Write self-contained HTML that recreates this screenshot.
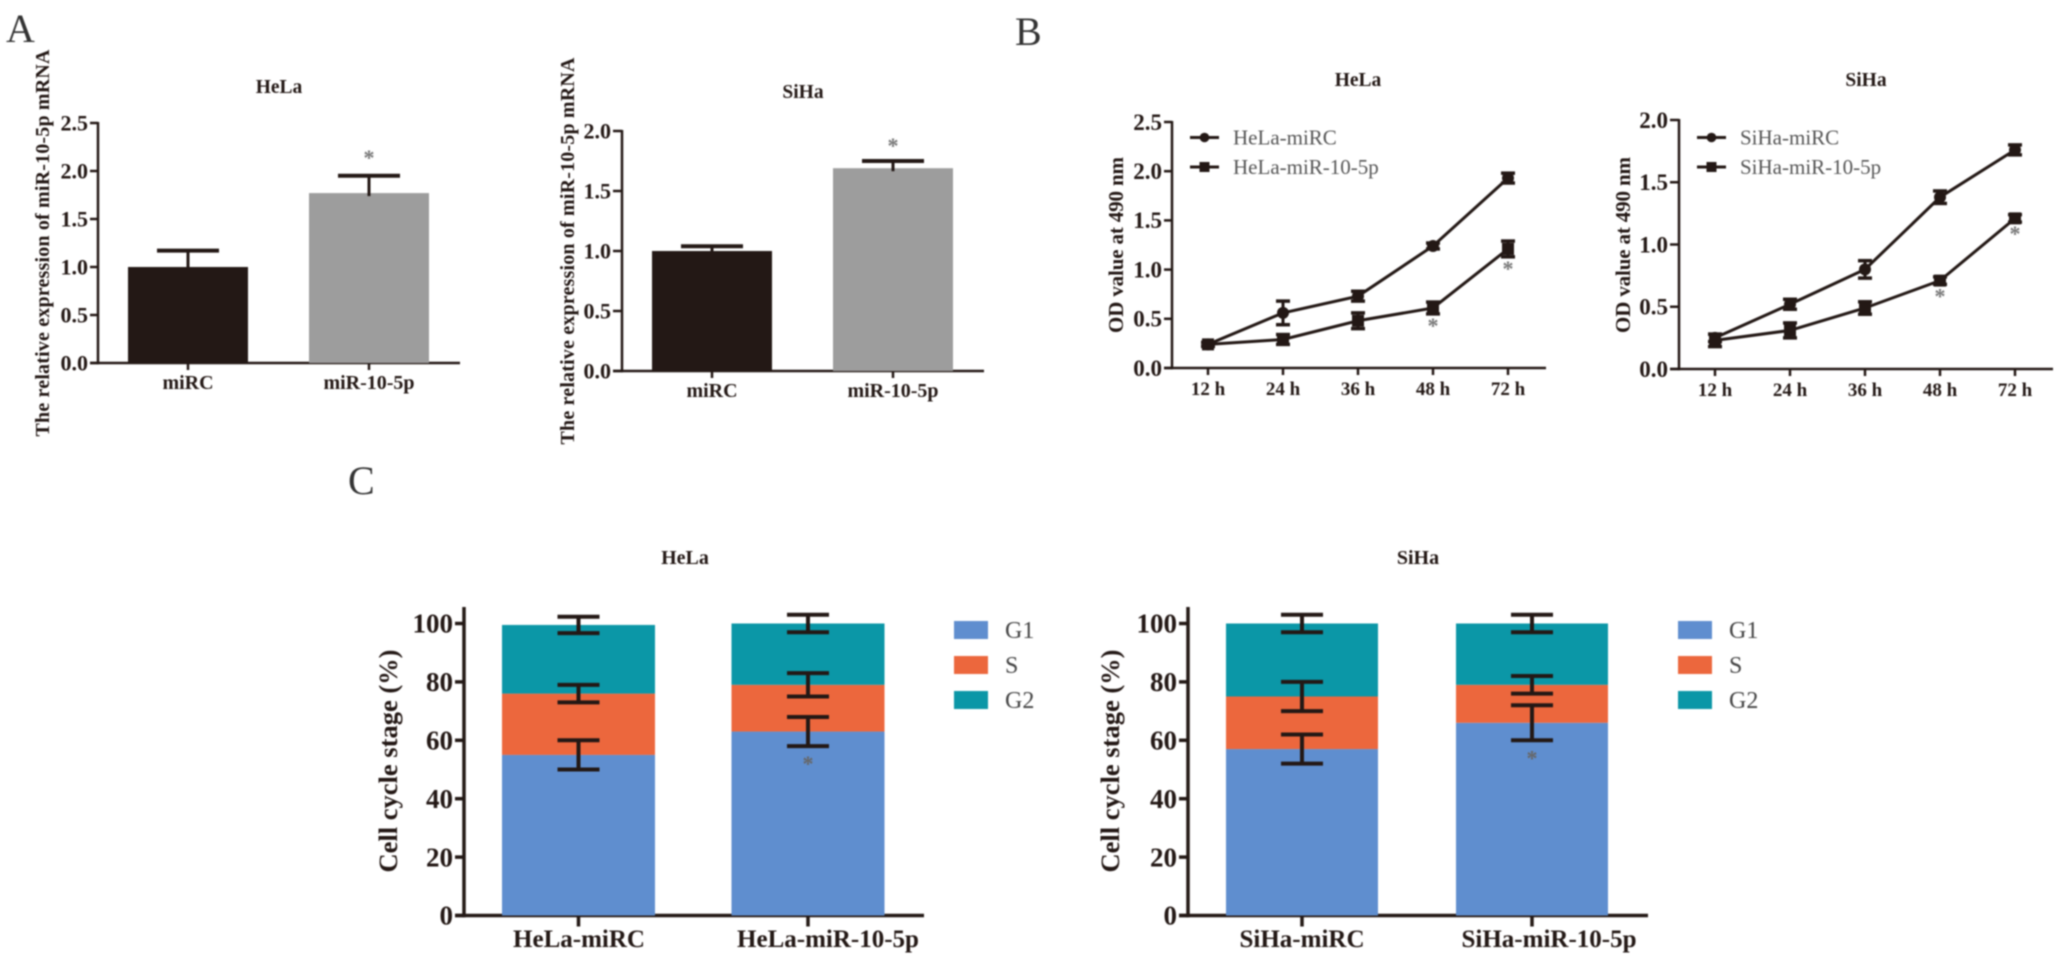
<!DOCTYPE html>
<html>
<head>
<meta charset="utf-8">
<title>miR-10-5p figure</title>
<style>
html,body{margin:0;padding:0;background:#fff;width:2067px;height:962px;overflow:hidden}
svg{display:block;font-family:"Liberation Serif",serif}
</style>
</head>
<body>
<svg id="fig" width="2067" height="962" viewBox="0 0 2067 962" xmlns="http://www.w3.org/2000/svg">
<g id="root" style="filter:blur(0.7px)"></g>
</svg>
<script>
// ---- Panel A data ----
const barCategories = ["miRC", "miR-10-5p"];
const helaBarValues = [1.0, 1.77];
const helaBarErrors = [0.17, 0.18];
const sihaBarValues = [1.0, 1.69];
const sihaBarErrors = [0.04, 0.06];
const helaBarTicks = [0, 0.5, 1.0, 1.5, 2.0, 2.5];
const sihaBarTicks = [0, 0.5, 1.0, 1.5, 2.0];

// ---- Panel B data ----
const timeLabels = ["12 h", "24 h", "36 h", "48 h", "72 h"];
const helaOdControl = [0.24, 0.56, 0.73, 1.24, 1.93];
const helaOdControlErr = [0.02, 0.12, 0.05, 0.03, 0.05];
const helaOdMir = [0.24, 0.29, 0.48, 0.61, 1.21];
const helaOdMirErr = [0.02, 0.05, 0.08, 0.06, 0.08];
const sihaOdControl = [0.25, 0.52, 0.80, 1.38, 1.76];
const sihaOdControlErr = [0.03, 0.04, 0.07, 0.05, 0.04];
const sihaOdMir = [0.23, 0.31, 0.49, 0.71, 1.21];
const sihaOdMirErr = [0.05, 0.06, 0.05, 0.03, 0.03];
const helaOdTicks = [0, 0.5, 1.0, 1.5, 2.0, 2.5];
const sihaOdTicks = [0, 0.5, 1.0, 1.5, 2.0];
const odStarPoints = [3, 4];

// ---- Panel C data ----
const stageNames = ["G1", "S", "G2"];
const cycleTicks = [0, 20, 40, 60, 80, 100];
const helaCycleCategories = ["HeLa-miRC", "HeLa-miR-10-5p"];
const sihaCycleCategories = ["SiHa-miRC", "SiHa-miR-10-5p"];
const helaG1 = [55, 63];
const helaS = [21, 16];
const helaG2 = [23.5, 21];
const helaG1Err = [5, 5];
const helaSErr = [3, 4];
const helaG2Err = [2.8, 3];
const sihaG1 = [57, 66];
const sihaS = [18, 13];
const sihaG2 = [25, 21];
const sihaG1Err = [5, 6];
const sihaSErr = [5, 3];
const sihaG2Err = [3, 3];

const INK = "#231815";
const root = document.getElementById("root");
const NS = "http://www.w3.org/2000/svg";

function make(tag, attrs, name, parent) {
  const el = document.createElementNS(NS, tag);
  for (const k in attrs) el.setAttribute(k, attrs[k]);
  
  
  (parent || root).appendChild(el);
  return el;
}
function label(str, x, y, size, weight, anchor, fill, name, parent, extra) {
  const t = make("text", Object.assign({x: x, y: y, "font-size": size, "font-weight": weight, "text-anchor": anchor, fill: fill}, extra || {}), name, parent);
  t.textContent = str;
  return t;
}
function line(x1, y1, x2, y2, w, name, parent, color) {
  return make("line", {x1: x1, y1: y1, x2: x2, y2: y2, stroke: color || INK, "stroke-width": w}, name, parent);
}
function yTitle(str, x, cy, len, size, name, parent) {
  label(str, 0, 0, size, "bold", "middle", INK, name, parent, {
    transform: "translate(" + x + "," + cy + ") rotate(-90)",
    textLength: len, lengthAdjust: "spacing"
  });
}
function yAxis(cfg, ticks, fmt, g) {
  const y = v => cfg.y0 - v * cfg.unit;
  line(cfg.ax, cfg.top !== undefined ? cfg.top : y(ticks[ticks.length - 1]) - 1, cfg.ax, cfg.y0 + cfg.w / 2, cfg.w, "y-axis", g);
  ticks.forEach(t => {
    line(cfg.ax - cfg.tick, y(t), cfg.ax, y(t), cfg.w, "y-tick", g);
    label(fmt(t), cfg.ax - cfg.tick - 2, y(t) + cfg.fs * 0.34, cfg.fs, "bold", "end", INK, "y-tick-label", g);
  });
  line(cfg.ax - cfg.tick, cfg.y0, cfg.xEnd, cfg.y0, cfg.w, "x-axis", g);
  return y;
}

// ---- Panel A ----
function barChart(cfg, values, errs, ticks) {
  const g = make("g", {}, cfg.name);
  const y = yAxis(cfg, ticks, v => v.toFixed(1), g);
  const colors = ["#231815", "#9d9d9d"];
  values.forEach((v, i) => {
    const cx = cfg.first + i * cfg.step;
    make("rect", {x: cx - cfg.bw / 2, y: y(v), width: cfg.bw, height: cfg.y0 - y(v), fill: colors[i]}, "bar-" + barCategories[i], g);
    line(cx, y(v) + 3, cx, y(v + errs[i]), 3, "error-stem", g);
    line(cx - 31, y(v + errs[i]), cx + 31, y(v + errs[i]), 4, "error-cap", g);
    line(cx, cfg.y0, cx, cfg.y0 + 7, cfg.w, "x-tick", g);
    label(barCategories[i], cx, cfg.y0 + 26, 20, "bold", "middle", INK, "x-tick-label", g);
  });
  const sx = cfg.first + cfg.step;
  label("*", sx, y(values[1] + errs[1]) - cfg.star, 22, "bold", "middle", "#777", "significance-star", g);
  label(cfg.title, cfg.titleCx, cfg.titleY, 19.5, "bold", "middle", INK, "chart-title", g);
  yTitle("The relative expression of miR-10-5p mRNA", cfg.titleX, cfg.titleCy, 387, 20, "y-axis-title", g);
}
barChart({name:"panel-a-hela", ax:98, y0:363, unit:96, tick:8, w:2.5, fs:22, xEnd:460, first:188, step:181, bw:120, star:11, title:"HeLa", titleCx:279, titleY:93, titleX:49, titleCy:243}, helaBarValues, helaBarErrors, helaBarTicks);
barChart({name:"panel-a-siha", ax:622, y0:371, unit:120, tick:9, w:2.5, fs:22, xEnd:984, first:712, step:181, bw:120, star:8, title:"SiHa", titleCx:803, titleY:98, titleX:574, titleCy:251}, sihaBarValues, sihaBarErrors, sihaBarTicks);

// ---- Panel B ----
function lineChart(cfg, ctrl, ctrlErr, mir, mirErr, ticks) {
  const g = make("g", {}, cfg.name);
  const y = yAxis(cfg, ticks, v => v.toFixed(1), g);
  const x = i => cfg.first + i * cfg.step;
  timeLabels.forEach((t, i) => {
    line(x(i), cfg.y0, x(i), cfg.y0 + 7, cfg.w, "x-tick", g);
    label(t, x(i), cfg.y0 + 27, 19, "bold", "middle", INK, "x-tick-label", g);
  });
  [[ctrl, ctrlErr, "circle", "control"], [mir, mirErr, "square", "mir"]].forEach(s => {
    const pts = s[0].map((v, i) => x(i) + "," + y(v)).join(" ");
    make("polyline", {points: pts, fill: "none", stroke: INK, "stroke-width": 3}, "series-line-" + s[3], g);
    s[0].forEach((v, i) => {
      const hi = y(v + s[1][i]), lo = y(v - s[1][i]);
      line(x(i), hi, x(i), lo, 3, "error-stem", g);
      line(x(i) - 7, hi, x(i) + 7, hi, 3.5, "error-cap", g);
      line(x(i) - 7, lo, x(i) + 7, lo, 3.5, "error-cap", g);
      if (s[2] === "circle") make("circle", {cx: x(i), cy: y(v), r: 6, fill: INK}, "point-" + s[3], g);
      else make("rect", {x: x(i) - 6, y: y(v) - 6, width: 12, height: 12, fill: INK}, "point-" + s[3], g);
    });
  });
  odStarPoints.forEach(i => {
    label("*", x(i), y(mir[i] - mirErr[i]) + 19, 22, "bold", "middle", "#777", "significance-star", g);
  });
  label(cfg.title, cfg.titleCx, 86, 19.5, "bold", "middle", INK, "chart-title", g);
  yTitle("OD value at 490 nm", cfg.titleX, 245, 176, 21, "y-axis-title", g);
  cfg.legend.forEach((txt, i) => {
    const ly = cfg.legendY + i * 29.5;
    line(cfg.legendX, ly, cfg.legendX + 29, ly, 3, "legend-line", g);
    if (i === 0) make("circle", {cx: cfg.legendX + 14.5, cy: ly, r: 4.8, fill: INK}, "legend-marker", g);
    else make("rect", {x: cfg.legendX + 9.5, y: ly - 5, width: 10, height: 10, fill: INK}, "legend-marker", g);
    label(txt, cfg.legendX + 43, ly + 7, 21, "normal", "start", "#555", "legend-entry", g);
  });
}
lineChart({name:"panel-b-hela", ax:1172, y0:368, unit:98.4, tick:8, w:2.5, fs:23, xEnd:1546, first:1208, step:75, title:"HeLa", titleCx:1358, titleX:1123, legend:["HeLa-miRC","HeLa-miR-10-5p"], legendX:1190, legendY:137.5}, helaOdControl, helaOdControlErr, helaOdMir, helaOdMirErr, helaOdTicks);
lineChart({name:"panel-b-siha", ax:1679, y0:369, unit:124.5, tick:9, w:2.5, fs:23, xEnd:2053, first:1715, step:75, title:"SiHa", titleCx:1866, titleX:1630, legend:["SiHa-miRC","SiHa-miR-10-5p"], legendX:1697, legendY:137.5}, sihaOdControl, sihaOdControlErr, sihaOdMir, sihaOdMirErr, sihaOdTicks);

// ---- Panel C ----
function stackChart(cfg, cats, series, errs) {
  const g = make("g", {}, cfg.name);
  const y = yAxis(cfg, cycleTicks, v => String(v), g);
  const colors = ["#5f8ecf", "#ec673d", "#0b97a7"];
  cats.forEach((c, i) => {
    const cx = cfg.first + i * cfg.step;
    let base = 0;
    const tops = [];
    series.forEach((s, k) => {
      const top = base + s[i];
      make("rect", {x: cx - cfg.bw / 2, y: y(top), width: cfg.bw, height: y(base) - y(top), fill: colors[k]}, "bar-" + stageNames[k] + "-" + c, g);
      tops.push(top);
      base = top;
    });
    tops.forEach((top, k) => {
      const hi = y(top + errs[k][i]), lo = y(top - errs[k][i]);
      line(cx, hi, cx, lo, 4, "error-stem", g);
      line(cx - 21, hi, cx + 21, hi, 4, "error-cap", g);
      line(cx - 21, lo, cx + 21, lo, 4, "error-cap", g);
    });
    line(cx, cfg.y0, cx, cfg.y0 + 11, cfg.w, "x-tick", g);
    label(c, cx + cfg.labelShift[i], cfg.y0 + 31.5, 25, "bold", "middle", INK, "x-tick-label", g);
  });
  const sx = cfg.first + cfg.step;
  label("*", sx, y(series[0][1] - errs[0][1]) + 25, 22, "bold", "middle", "#666", "significance-star", g);
  label(cfg.title, cfg.titleCx, cfg.titleY, 20, "bold", "middle", INK, "chart-title", g);
  yTitle("Cell cycle stage (%)", cfg.titleX, 761, 223, 26.5, "y-axis-title", g);
  stageNames.forEach((n, k) => {
    const ly = 621 + k * 35;
    make("rect", {x: cfg.legendX, y: ly, width: 34, height: 18, fill: colors[k]}, "legend-swatch-" + n, g);
    label(n, cfg.legendX + 51, ly + 17, 24, "normal", "start", "#444", "legend-entry", g);
  });
}
stackChart({name:"panel-c-hela", ax:464, y0:915.5, unit:2.92, top:607, tick:9, w:3.5, fs:27, xEnd:924, first:578.5, step:229.5, bw:153, labelShift:[0.5, 20], title:"HeLa", titleCx:685, titleY:564, titleX:397, legendX:954}, helaCycleCategories, [helaG1, helaS, helaG2], [helaG1Err, helaSErr, helaG2Err]);
stackChart({name:"panel-c-siha", ax:1188, y0:915.5, unit:2.92, top:607, tick:9, w:3.5, fs:27, xEnd:1648, first:1302, step:230, bw:152, labelShift:[0, 17], title:"SiHa", titleCx:1418, titleY:564, titleX:1119, legendX:1678}, sihaCycleCategories, [sihaG1, sihaS, sihaG2], [sihaG1Err, sihaSErr, sihaG2Err]);

// ---- Panel letters ----
label("A", 6, 42, 40, "normal", "start", "#333", "panel-label-a");
label("B", 1015, 45, 40, "normal", "start", "#333", "panel-label-b");
label("C", 348, 494, 40, "normal", "start", "#333", "panel-label-c");
</script>
</body>
</html>
